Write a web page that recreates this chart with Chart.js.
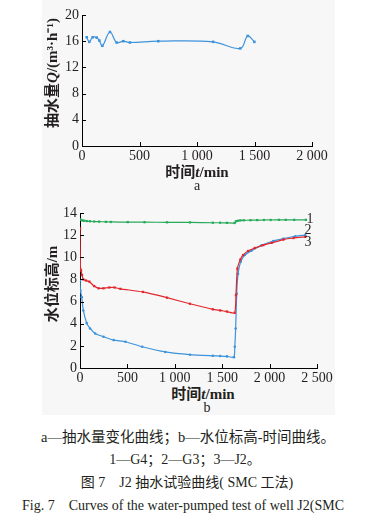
<!DOCTYPE html>
<html>
<head>
<meta charset="utf-8">
<script src="https://cdn.jsdelivr.net/npm/chart.js@4.4.1/dist/chart.umd.min.js"></script>
<style>
  body { margin: 0; width: 372px; height: 522px; position: relative; background: #fff; overflow: hidden; color: #231f20; }
  .panel { position: absolute; left: 42px; top: 0; width: 293px; height: 415px; background: #f7f7f7; }
  .box { position: absolute; left: 0; }
  .txt { position: absolute; white-space: nowrap; font-family: "Liberation Serif", "Noto Sans CJK SC", serif; transform: translate(-50%, -50%); line-height: 1; }
  .ttl { font-weight: bold; font-size: 15px; }
  .rot { transform: translate(-50%, -50%) rotate(-90deg); }
  .cap { font-size: 14px; }
</style>
</head>
<body>
<div class="panel"></div>
<div class="box" style="top:0"><canvas id="chartA" width="372" height="165"></canvas></div>
<div class="box" style="top:195px"><canvas id="chartB" width="372" height="190"></canvas></div>

<div class="txt ttl rot" style="left:52px;top:73px">抽水量<i>Q</i>/(m³·h⁻¹)</div>
<div class="txt ttl" style="left:197px;top:172px">时间<i>t</i>/min</div>
<div class="txt" style="left:197px;top:186px;font-size:14px">a</div>

<div class="txt ttl rot" style="left:52px;top:284px">水位标高/m</div>
<div class="txt ttl" style="left:203px;top:394px">时间<i>t</i>/min</div>
<div class="txt" style="left:207px;top:408px;font-size:14px">b</div>

<div class="txt" style="left:310px;top:219px;font-size:14px">1</div>
<div class="txt" style="left:308px;top:230px;font-size:14px">2</div>
<div class="txt" style="left:308px;top:242px;font-size:14px">3</div>

<div class="txt cap" style="left:188px;top:437px;font-size:14.5px">a—抽水量变化曲线；b—水位标高-时间曲线。</div>
<div class="txt cap" style="left:185px;top:460px">1—G4；2—G3；3—J2。</div>
<div class="txt cap" style="left:187px;top:483px">图 7&nbsp;&nbsp;&nbsp; J2 抽水试验曲线( SMC 工法)</div>
<div class="txt" style="left:183px;top:506px;font-size:14px">Fig. 7&nbsp;&nbsp;&nbsp; Curves of the water-pumped test of well J2(SMC</div>

<script>
// chart a: pumping rate
const timeA = [41, 63, 93, 128, 151, 177, 243, 301, 359, 417, 663, 1140, 1377, 1441, 1499];
const flowA = [16.6, 15.9, 16.6, 16.55, 16.1, 15.3, 17.4, 15.8, 16.0, 15.8, 16.0, 15.9, 14.9, 16.8, 15.9];

// chart b: water level
const timeG4 = [0, 7, 25, 43, 71, 106, 149, 202, 273, 326, 504, 681, 918, 1160, 1401, 1479, 1550, 1631, 1645, 1667, 1691, 1727, 1798, 1869, 1940, 2011, 2099, 2170, 2259, 2383];
const levelG4 = [13.42, 13.38, 13.33, 13.3, 13.27, 13.25, 13.23, 13.22, 13.2, 13.19, 13.18, 13.17, 13.16, 13.15, 13.12, 13.12, 13.11, 13.1, 13.25, 13.3, 13.33, 13.34, 13.35, 13.36, 13.37, 13.37, 13.38, 13.38, 13.38, 13.38];

const timeG3 = [0, 5, 11, 21, 35, 64, 99, 149, 195, 248, 309, 365, 426, 663, 918, 1160, 1401, 1479, 1550, 1631, 1645, 1660, 1691, 1720, 1773, 1844, 1933, 2021, 2145, 2252, 2376];
const levelG3 = [12.6, 8.9, 8.8, 8.4, 8.0, 7.9, 7.8, 7.4, 7.2, 7.2, 7.27, 7.27, 7.15, 6.87, 6.35, 5.8, 5.3, 5.2, 5.1, 4.98, 6.58, 8.98, 9.79, 10.2, 10.57, 10.84, 11.1, 11.3, 11.6, 11.74, 11.85];

const timeJ2 = [0, 5, 18, 35, 71, 106, 160, 248, 355, 479, 656, 900, 1160, 1401, 1479, 1550, 1624, 1633, 1642, 1653, 1667, 1695, 1738, 1809, 1915, 2039, 2145, 2270, 2376];
const levelJ2 = [7.9, 7.0, 6.4, 5.2, 4.05, 3.57, 3.12, 2.82, 2.52, 2.37, 1.92, 1.45, 1.2, 1.1, 1.08, 1.05, 0.98, 1.92, 3.57, 6.7, 8.5, 9.6, 10.2, 10.6, 11.08, 11.47, 11.68, 11.9, 12.0];

const BLUE = '#3d93dc';
const RED = '#e2262b';
const GREEN = '#26a95a';
const TICK_FONT = { family: 'Liberation Serif', size: 14 };

const pairs = (xs, ys) => xs.map((x, i) => ({ x, y: ys[i] }));
const fmt = v => v >= 1000 ? Math.floor(v / 1000) + ' ' + String(v % 1000).padStart(3, '0') : String(v);

// short ticks pointing into the plot
const inwardTicks = {
  id: 'inwardTicks',
  afterDraw(chart) {
    const { ctx, chartArea } = chart;
    const xs = chart.scales.x, ys = chart.scales.y;
    ctx.save();
    ctx.strokeStyle = '#000';
    ctx.lineWidth = 1;
    ctx.beginPath();
    xs.ticks.forEach(t => {
      const px = Math.round(xs.getPixelForValue(t.value)) + 0.5;
      ctx.moveTo(px, chartArea.bottom);
      ctx.lineTo(px, chartArea.bottom - 4);
    });
    ys.ticks.forEach(t => {
      const py = Math.round(ys.getPixelForValue(t.value)) + 0.5;
      ctx.moveTo(chartArea.left, py);
      ctx.lineTo(chartArea.left + 4, py);
    });
    ctx.stroke();
    ctx.restore();
  }
};

function makeScales(xMax, yMax, yStep, yWidth, xHeight) {
  return {
    x: {
      type: 'linear', min: 0, max: xMax,
      grid: { display: false, drawTicks: false },
      border: { display: true, color: '#000', width: 1 },
      ticks: { stepSize: 500, font: TICK_FONT, color: '#231f20', padding: 2, maxRotation: 0, callback: fmt },
      afterFit: s => { s.height = xHeight; }
    },
    y: {
      min: 0, max: yMax,
      grid: { display: false, drawTicks: false },
      border: { display: true, color: '#000', width: 1 },
      ticks: { stepSize: yStep, font: TICK_FONT, color: '#231f20', padding: 3 },
      afterFit: s => { s.width = yWidth; }
    }
  };
}

const baseOpts = {
  responsive: false,
  animation: false,
  plugins: { legend: { display: false }, tooltip: { enabled: false } }
};

new Chart(document.getElementById('chartA'), {
  type: 'line',
  data: {
    datasets: [{
      data: pairs(timeA, flowA),
      borderColor: BLUE, backgroundColor: BLUE,
      borderWidth: 1.2, tension: 0.4,
      pointStyle: 'rect', pointRadius: 1.8, pointBorderWidth: 0
    }]
  },
  options: {
    ...baseOpts,
    layout: { padding: { left: 0, top: 15, right: 60, bottom: 0 } },
    scales: makeScales(2000, 20, 2, 82, 19)
  },
  plugins: [inwardTicks]
});

new Chart(document.getElementById('chartB'), {
  type: 'line',
  data: {
    datasets: [
      { data: pairs(timeG4, levelG4), borderColor: GREEN, backgroundColor: GREEN, borderWidth: 1.2, tension: 0.2, pointStyle: 'rect', pointRadius: 1.6, pointBorderWidth: 0 },
      { data: pairs(timeG3, levelG3), borderColor: RED, backgroundColor: RED, borderWidth: 1.2, tension: 0.2, pointStyle: 'rect', pointRadius: 1.6, pointBorderWidth: 0 },
      { data: pairs(timeJ2, levelJ2), borderColor: BLUE, backgroundColor: BLUE, borderWidth: 1.2, tension: 0.2, pointStyle: 'circle', pointRadius: 1.3, pointBorderWidth: 0 }
    ]
  },
  options: {
    ...baseOpts,
    layout: { padding: { left: 0, top: 18, right: 55, bottom: 0 } },
    scales: makeScales(2500, 14, 2, 80, 17)
  },
  plugins: [inwardTicks]
});
</script>
</body>
</html>
